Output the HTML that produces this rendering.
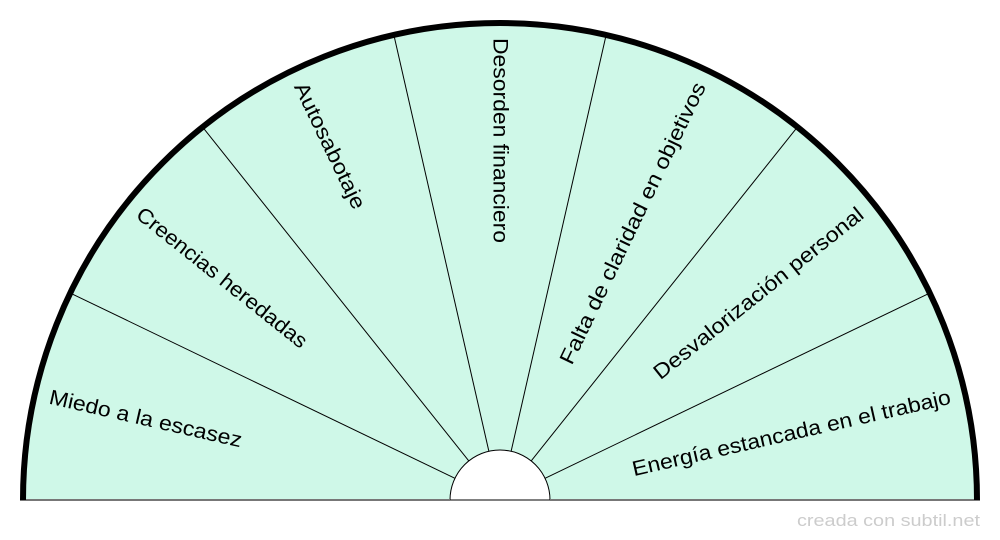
<!DOCTYPE html>
<html><head><meta charset="utf-8"><style>
html,body{margin:0;padding:0;background:#fff;}
svg{display:block}
text{font-family:"Liberation Sans",sans-serif;}
</style></head><body>
<svg width="1000" height="540" viewBox="0 0 1000 540">
<path d="M23,500 A477,477 0 0 1 977,500 Z" fill="#cff8e8"/>
<g stroke="#000" stroke-width="1">
<line x1="450" y1="500" x2="23" y2="500" transform="rotate(25.714 500 500)"/>
<line x1="450" y1="500" x2="23" y2="500" transform="rotate(51.429 500 500)"/>
<line x1="450" y1="500" x2="23" y2="500" transform="rotate(77.143 500 500)"/>
<line x1="450" y1="500" x2="23" y2="500" transform="rotate(102.857 500 500)"/>
<line x1="450" y1="500" x2="23" y2="500" transform="rotate(128.571 500 500)"/>
<line x1="450" y1="500" x2="23" y2="500" transform="rotate(154.286 500 500)"/>
</g>
<path d="M450,500 A50,50 0 0 1 550,500 Z" fill="#fff" stroke="#000" stroke-width="1"/>
<line x1="20" y1="500" x2="450" y2="500" stroke="#777" stroke-width="2"/>
<line x1="550" y1="500" x2="980" y2="500" stroke="#777" stroke-width="2"/>
<path d="M23,500 A477,477 0 0 1 977,500" fill="none" stroke="#000" stroke-width="6"/>
<g font-size="21" fill="#000" dominant-baseline="central">
<text x="38" y="500" textLength="197" lengthAdjust="spacingAndGlyphs" transform="rotate(12.857 500 500)">Miedo a la escasez</text>
<text x="38" y="500" textLength="212" lengthAdjust="spacingAndGlyphs" transform="rotate(38.571 500 500)">Creencias heredadas</text>
<text x="38" y="500" textLength="138" lengthAdjust="spacingAndGlyphs" transform="rotate(64.286 500 500)">Autosabotaje</text>
<text x="38" y="500" textLength="205" lengthAdjust="spacingAndGlyphs" transform="rotate(90 500 500)">Desorden financiero</text>
<text x="962" y="500" text-anchor="end" textLength="310" lengthAdjust="spacingAndGlyphs" transform="rotate(-64.286 500 500)">Falta de claridad en objetivos</text>
<text x="962" y="500" text-anchor="end" textLength="262" lengthAdjust="spacingAndGlyphs" transform="rotate(-38.571 500 500)">Desvalorización personal</text>
<text x="962" y="500" text-anchor="end" textLength="326" lengthAdjust="spacingAndGlyphs" transform="rotate(-12.857 500 500)">Energía estancada en el trabajo</text>
</g>
<text x="980" y="526" text-anchor="end" font-size="17" textLength="183" lengthAdjust="spacingAndGlyphs" fill="#ccc">creada con subtil.net</text>
</svg>
</body></html>
